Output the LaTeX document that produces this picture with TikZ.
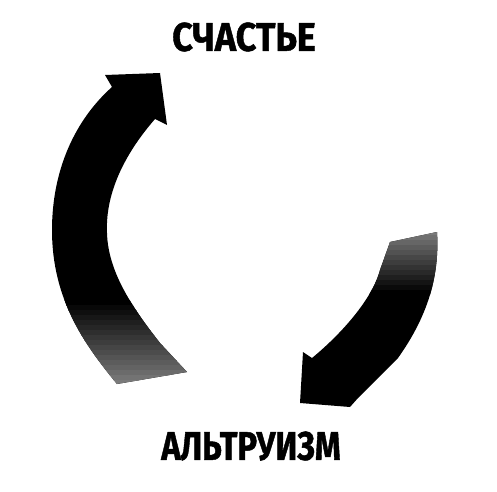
\documentclass[tikz,border=0pt]{standalone}
\usepackage{fontspec}
\newfontfamily\labfont{Fira Sans}[FakeBold=1.2]
\begin{document}
\begin{tikzpicture}[x=1pt,y=1pt,
  lab/.style={font=\labfont\bfseries\fontsize{40}{40}\selectfont, inner sep=0pt}]
\useasboundingbox (0,0) rectangle (497,491);
% labels
\node[lab, xscale=0.9] (happy) at (244,454) {СЧАСТЬЕ};
\node[lab, xscale=0.82] (altr) at (251,45) {АЛЬТРУИЗМ};
% left arrow (up)
\begin{scope}
\clip (160,418) -- (167,366) -- (155,372)
  .. controls (128,341) and (105,301) .. (107,258)
  .. controls (108,221) and (130,186) .. (160,148)
  -- (187,119) -- (117,107)
  .. controls (85,146) and (52,191) .. (52,261)
  .. controls (52,321) and (75,371) .. (112,404)
  -- (105,416) -- cycle;
\fill[black] (0,0) rectangle (497,491);
\foreach \i in {0,...,17}{
  \pgfmathtruncatemacro{\c}{100-3*\i}
  \fill[black!\c] (0,{191-5*\i}) rectangle (497,{185.5-5*\i});
}
\end{scope}
% right arrow (down)
\begin{scope}
\clip (300,88) -- (303,139) -- (312,133)
  .. controls (340,156) and (372,191) .. (380,221)
  -- (390,249) -- (437,259)
  .. controls (440,211) and (425,171) .. (398,133)
  -- (358,93) -- (350,84) -- cycle;
\fill[black] (0,0) rectangle (497,491);
\foreach \i in {0,...,14}{
  \pgfmathtruncatemacro{\c}{100-4*\i}
  \fill[black!\c] (0,{196+5*\i}) rectangle (497,{201.5+5*\i});
}
\end{scope}
\end{tikzpicture}
\end{document}
